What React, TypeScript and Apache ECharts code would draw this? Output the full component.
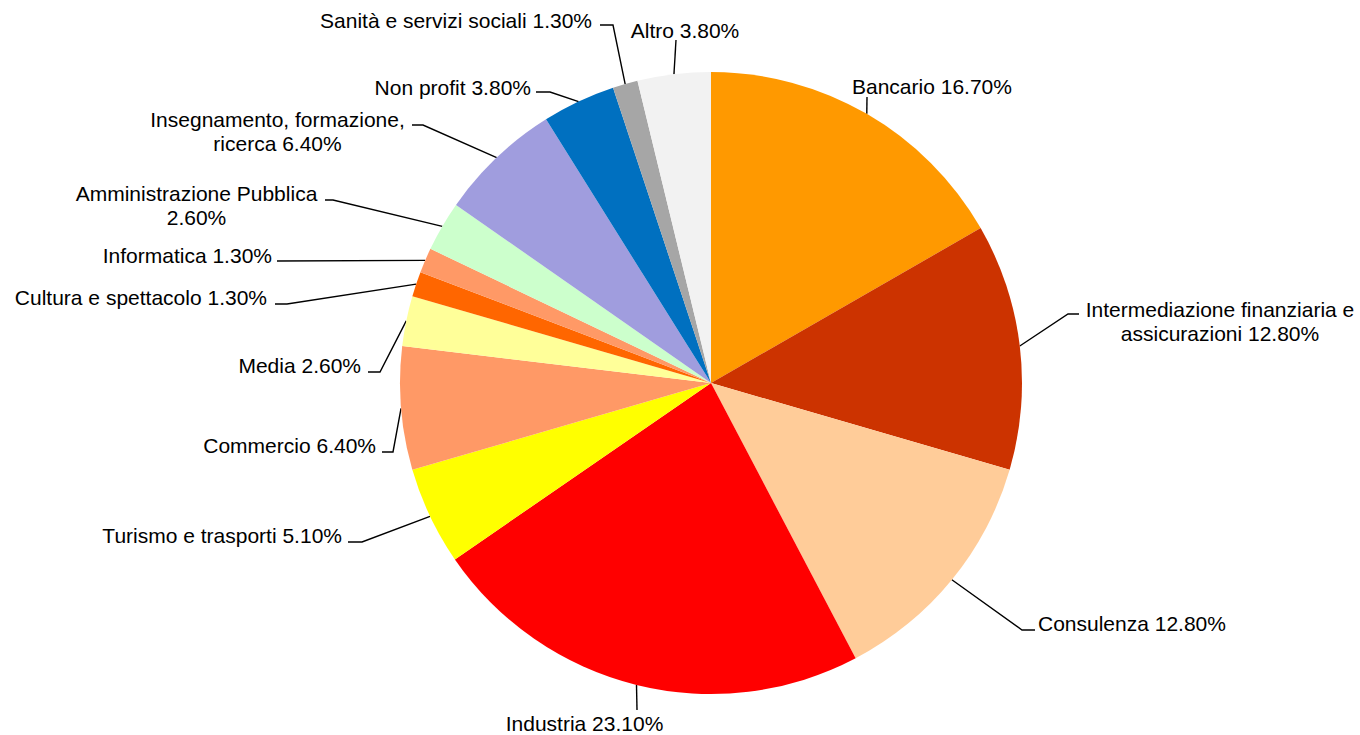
import React, { useEffect, useRef } from "react";
import * as echarts from "echarts";

const categories = [
  "Bancario",
  "Intermediazione finanziaria e\nassicurazioni",
  "Consulenza",
  "Industria",
  "Turismo e trasporti",
  "Commercio",
  "Media",
  "Cultura e spettacolo",
  "Informatica",
  "Amministrazione Pubblica",
  "Insegnamento, formazione,\nricerca",
  "Non profit",
  "Sanità e servizi sociali",
  "Altro",
];
const values = [16.7, 12.8, 12.8, 23.1, 5.1, 6.4, 2.6, 1.3, 1.3, 2.6, 6.4, 3.8, 1.3, 3.8];
const separators = [" ", " ", " ", " ", " ", " ", " ", " ", " ", "\n", " ", " ", " ", " "];
const colors = [
  "#FF9900", "#CC3300", "#FFCC99", "#FF0000", "#FFFF00", "#FF9966", "#FFFF99",
  "#FF6600", "#FF9966", "#CCFFCC", "#A09DDE", "#0070C0", "#A6A6A6", "#F2F2F2",
];

// label placement (text anchor x, y, alignment) and leader-line bend points
const labelAnchors: [number, number, string][] = [
  [852, 86, "left"],
  [1220, 321.5, "center"],
  [1038, 623, "left"],
  [584.5, 723, "center"],
  [342, 535, "right"],
  [376, 445, "right"],
  [361, 365, "right"],
  [267, 297, "right"],
  [272, 255, "right"],
  [196.5, 205, "center"],
  [277.5, 131.5, "center"],
  [531, 87, "right"],
  [592, 20, "right"],
  [685, 30, "center"],
];
const leaderBends: number[][][] = [
  [[867, 97]],
  [[1068, 314], [1079, 314]],
  [[1022, 630], [1035, 630]],
  [[637, 710]],
  [[362, 542], [348, 542]],
  [[393, 452], [382, 452]],
  [[380, 372], [368, 372]],
  [[287, 304], [275, 304]],
  [[277, 261]],
  [[333, 200], [325, 200]],
  [[423, 125], [412, 125]],
  [[550, 92], [536, 92]],
  [[613, 25], [600, 25]],
  [[676, 40]],
];

export default function App() {
  const ref = useRef<HTMLDivElement>(null);
  useEffect(() => {
    if (!ref.current) return;
    const chart = echarts.init(ref.current, null, { renderer: "svg" });
    chart.setOption({
      animation: false,
      backgroundColor: "#FFFFFF",
      series: [
        {
          type: "pie",
          center: [711, 383],
          radius: 311,
          startAngle: 90,
          clockwise: true,
          avoidLabelOverlap: false,
          data: categories.map((name, i) => ({
            name,
            value: values[i],
            itemStyle: { color: colors[i] },
          })),
          itemStyle: { borderWidth: 0 },
          label: {
            show: true,
            position: "outside",
            formatter: (p: any) => `${p.name}${separators[p.dataIndex]}${p.value.toFixed(2)}%`,
            color: "#000000",
            fontFamily: "'Liberation Sans', Arial, sans-serif",
            fontSize: 21,
            lineHeight: 24,
          },
          labelLine: {
            show: true,
            smooth: false,
            lineStyle: { color: "#000000", width: 1.4 },
          },
          emphasis: { disabled: true },
          labelLayout: (params: any) => {
            const i = params.dataIndex;
            const a = labelAnchors[i];
            const start = params.labelLinePoints ? params.labelLinePoints[0] : null;
            const out: any = {
              x: a[0],
              y: a[1],
              align: a[2],
              verticalAlign: "middle",
            };
            if (start) out.labelLinePoints = [start, ...leaderBends[i]];
            return out;
          },
        },
      ],
    });
    return () => chart.dispose();
  }, []);
  return (
    <div
      ref={ref}
      style={{ position: "absolute", left: 0, top: 0, width: 1360, height: 735 }}
    />
  );
}
